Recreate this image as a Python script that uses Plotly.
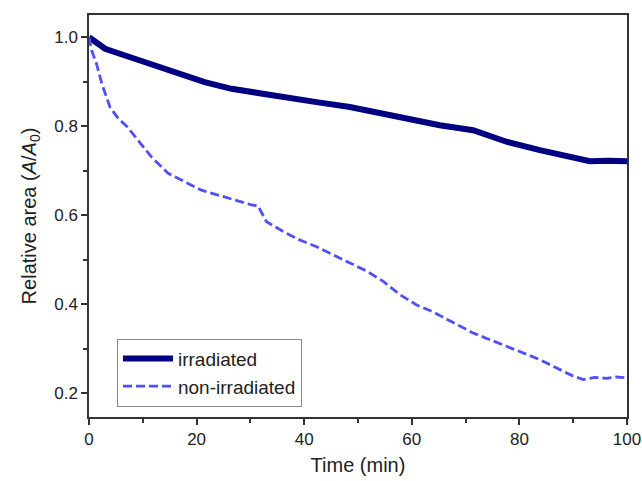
import plotly.graph_objects as go

# Irradiated series
t_irr = [0, 1, 3, 6.7, 11.6, 16.5, 21.5, 26.5, 29.9, 32.1, 36.1, 42.3, 48.5, 54.7, 60.9, 65.2,
         71.4, 77.6, 83.8, 90, 93.1, 96.5, 100]
v_irr = [1.0, 0.99, 0.974, 0.959, 0.94, 0.918, 0.899, 0.884, 0.877, 0.874, 0.865, 0.854, 0.843,
         0.828, 0.813, 0.802, 0.791, 0.765, 0.746, 0.731, 0.721, 0.722, 0.721]

# Non-irradiated series
t_non = [0, 0.5, 1.4, 2.4, 3.9, 5.45, 7.0, 9.2, 11.6, 14.7, 17.8, 20.9, 24, 27.1, 30.2, 31.4,
         32.1, 33.0, 36.1, 39.2, 42.3, 45.4, 48.5, 51.6, 54.7, 57.8, 60.9, 64, 66.5, 71.4,
         77.6, 83.8, 90, 91.9, 94, 96.2, 98, 100]
v_non = [1.0, 0.97, 0.94, 0.895, 0.843, 0.817, 0.80, 0.768, 0.731, 0.694, 0.675, 0.656, 0.645,
         0.634, 0.623, 0.621, 0.605, 0.585, 0.563, 0.544, 0.529, 0.511, 0.492, 0.474, 0.451,
         0.421, 0.398, 0.382, 0.366, 0.335, 0.305, 0.275, 0.238, 0.230, 0.235, 0.233, 0.236, 0.234]

x_ticks = [0, 20, 40, 60, 80, 100]
y_ticks = [0.2, 0.4, 0.6, 0.8, 1.0]
y_tick_labels = ["0.2", "0.4", "0.6", "0.8", "1.0"]

FONT = "Liberation Sans, Arial, sans-serif"

fig = go.Figure()
fig.add_trace(go.Scatter(x=t_irr, y=v_irr, mode="lines", name="irradiated",
                         line=dict(color="#000080", width=6)))
fig.add_trace(go.Scatter(x=t_non, y=v_non, mode="lines", name="non-irradiated",
                         line=dict(color="#5050F8", width=2.8, dash="9px,4px")))

axis_common = dict(showline=True, linecolor="#333333", linewidth=1.5, mirror=True,
                   ticks="outside", ticklen=6, tickwidth=1.5, tickcolor="#333333",
                   showgrid=False, zeroline=False, automargin=False,
                   tickfont=dict(family=FONT, size=17, color="#222222"))

fig.update_layout(
    width=642, height=481,
    margin=dict(l=89, r=15, t=15, b=64),
    paper_bgcolor="white", plot_bgcolor="white",
    font=dict(family=FONT, color="#222222"),
    xaxis=dict(range=[0, 100], tickvals=x_ticks, **axis_common,
               minor=dict(ticks="outside", ticklen=4, tickwidth=1.5, tickcolor="#333333",
                          tickvals=[10, 30, 50, 70, 90]),
               title=dict(text="Time (min)", font=dict(family=FONT, size=20), standoff=10)),
    yaxis=dict(range=[0.146, 1.05], tickvals=y_ticks, ticktext=y_tick_labels, **axis_common,
               minor=dict(ticks="outside", ticklen=4, tickwidth=1.5, tickcolor="#333333",
                          tickvals=[0.3, 0.5, 0.7, 0.9]),
               title=dict(text="Relative area (<i>A</i>/<i>A</i><sub>0</sub>)",
                          font=dict(family=FONT, size=20), standoff=12)),
    legend=dict(x=0.052, y=0.195, xanchor="left", yanchor="top",
                bordercolor="#888888", borderwidth=1, bgcolor="white",
                font=dict(family=FONT, size=19, color="#222222"),
                tracegroupgap=0, itemwidth=50),
    showlegend=True,
)

fig.write_html("out.html", config={"displayModeBar": False},
               post_script="document.body.style.margin='0';document.body.style.overflow='hidden';")
